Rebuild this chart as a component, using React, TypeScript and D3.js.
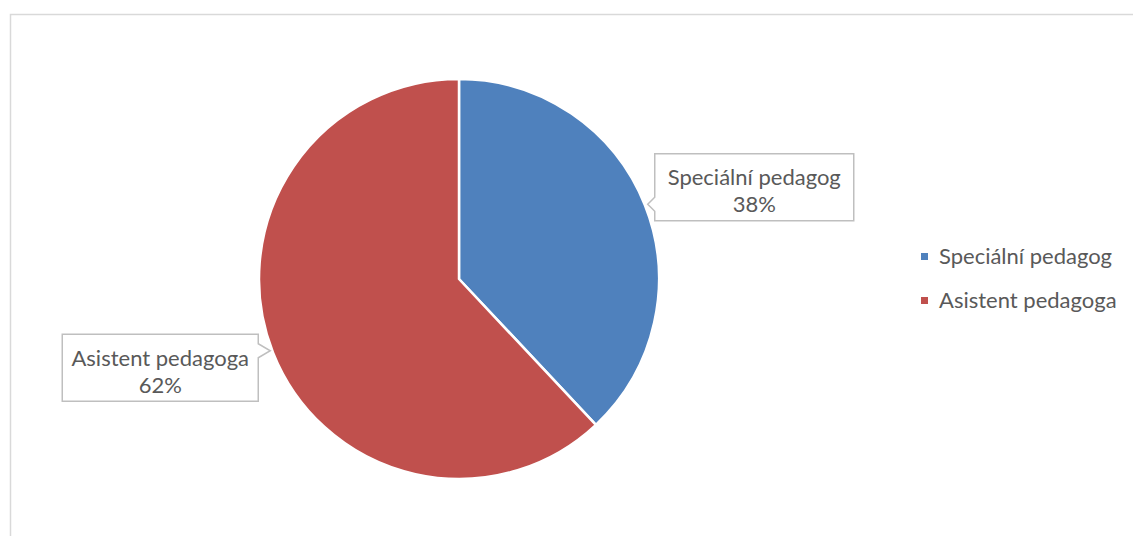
import React from "react";
import * as d3 from "d3";

const categories = ["Speciální pedagog", "Asistent pedagoga"];
const values = [38, 62];
const colors = ["#4F81BD", "#C0504D"];

const W = 1133;
const H = 536;
const cx = 459;
const cy = 279;
const R = 200;
const FONT = "Lato, 'Open Sans', sans-serif";
const FS = 22;

export default function App() {
  const pie = d3.pie<number>().sort(null).value((d) => d);
  const arcs = pie(values);
  const arc = d3.arc<d3.PieArcDatum<number>>().innerRadius(0).outerRadius(R);
  const total = d3.sum(values);
  const fmt = d3.format(".0%");

  return (
    <svg
      width={W}
      height={H}
      style={{ position: "absolute", left: 0, top: 0, background: "#fff" }}
    >
      <rect x={10.5} y={14.5} width={W + 20} height={H + 20} fill="#fff" stroke="#D9D9D9" strokeWidth={1.5} />
      <g transform={`translate(${cx},${cy})`}>
        {arcs.map((a, i) => (
          <path key={i} d={arc(a) || ""} fill={colors[i]} stroke="#fff" strokeWidth={2.5} strokeLinejoin="round" />
        ))}
      </g>
      {arcs.map((a, i) => {
        const mid = (a.startAngle + a.endAngle) / 2;
        const tr = R + 3;
        const tx = cx + tr * Math.sin(mid);
        const ty = cy - tr * Math.cos(mid) - (ty0(mid) > 0 ? 3 : 0);
        const right = Math.sin(mid) > 0;
        const bw = i === 0 ? 199 : 196;
        const bh = 67;
        const bcy = ty + 17 * Math.sign(ty - cy);
        const gap = right ? 7 : 12;
        const x0 = right ? tx + gap : tx - gap - bw;
        const x1 = x0 + bw;
        const y0 = bcy - bh / 2;
        const y1 = bcy + bh / 2;
        const nh = 7;
        let d: string;
        if (right) {
          d = `M${x0},${y0}H${x1}V${y1}H${x0}V${ty + nh}L${tx},${ty}L${x0},${ty - nh}Z`;
        } else {
          d = `M${x0},${y0}H${x1}V${ty - nh}L${tx},${ty}L${x1},${ty + nh}V${y1}H${x0}Z`;
        }
        const mx = (x0 + x1) / 2;
        return (
          <g key={i}>
            <path d={d} fill="#fff" stroke="#BFBFBF" strokeWidth={1.5} />
            <text x={mx} y={bcy - 2} textAnchor="middle" fontFamily={FONT} fontSize={FS} fill="#595959">
              {categories[i]}
            </text>
            <text x={mx} y={bcy + 25} textAnchor="middle" fontFamily={FONT} fontSize={FS} fill="#595959">
              {fmt(values[i] / total)}
            </text>
          </g>
        );
      })}
      {categories.map((c, i) => (
        <g key={c} transform={`translate(921,${253 + i * 44})`}>
          <rect x={0} y={0} width={7} height={7} fill={colors[i]} />
          <text x={18} y={11} fontFamily={FONT} fontSize={FS} fill="#595959">
            {c}
          </text>
        </g>
      ))}
    </svg>
  );
}

function ty0(mid: number) {
  return -Math.cos(mid);
}
